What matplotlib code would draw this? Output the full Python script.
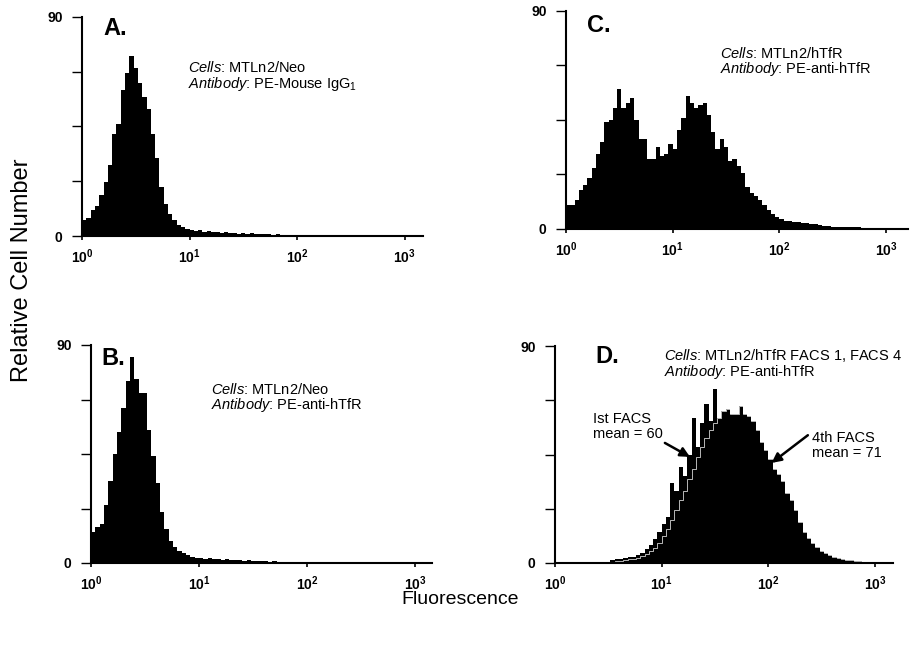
import numpy as np
import matplotlib
matplotlib.use("Agg")
import matplotlib.pyplot as plt
from matplotlib.ticker import NullLocator

plt.rcParams["font.family"] = "Liberation Sans"
plt.rcParams["mathtext.fontset"] = "custom"
plt.rcParams["mathtext.rm"] = "Liberation Sans"
plt.rcParams["mathtext.it"] = "Liberation Sans:italic"
plt.rcParams["mathtext.bf"] = "Liberation Sans:bold"

# channel grid: 80 log channels, 0.04 decade each, from 10^0
log_edges = np.arange(81) * 0.04
edges = 10 ** log_edges

# A. MTLn2/Neo, PE-Mouse IgG1
a_counts = [6.6, 7.5, 10.5, 12.5, 17, 22, 29, 42, 46, 60, 67, 74, 69, 63, 57, 52, 42, 32, 20, 13,
            9, 6.5, 4.5, 3.5, 3, 2.5, 2.2, 2.6, 1.8, 2.0, 1.5, 1.8, 1.3, 1.6, 1.2, 1.4, 1.0, 1.3, 0.9, 1.1,
            0.8, 1.0, 0.7, 0.9, 0.6, 0.8, 0.6, 0.5, 0.5, 0.4, 0.3, 0.3, 0.2, 0.2, 0.2, 0.1, 0, 0, 0, 0,
            0, 0, 0, 0, 0, 0, 0, 0, 0, 0, 0, 0, 0, 0, 0, 0, 0, 0, 0, 0]
# B. MTLn2/Neo, PE-anti-hTfR
b_counts = [13, 15, 16, 24, 34, 45, 54, 64, 75, 85, 76, 70, 70, 55, 44, 33, 21, 14, 9, 6.5,
            5, 4, 3.2, 2.6, 2.2, 2.0, 1.8, 2.1, 1.6, 1.7, 1.4, 1.5, 1.2, 1.3, 1.1, 1.0, 1.1, 0.9, 0.8, 0.9,
            0.7, 0.6, 0.7, 0.5, 0.5, 0.4, 0.4, 0.3, 0.3, 0.3, 0.3, 0.2, 0.3, 0.2, 0.2, 0.1, 0, 0, 0, 0,
            0, 0, 0, 0, 0, 0, 0, 0, 0, 0, 0, 0, 0, 0, 0, 0, 0, 0, 0, 0]
# C. MTLn2/hTfR, PE-anti-hTfR
c_counts = [10, 10, 12, 16, 18, 21, 25, 31, 36, 44, 45, 50, 58, 50, 52, 54, 45, 37, 37, 29,
            29, 34, 30, 31, 35, 33, 41, 46, 55, 52, 50, 51, 52, 47, 40, 33, 37, 34, 28, 29,
            26, 23, 17.5, 15, 13.5, 12, 10, 8, 6, 5, 4, 3.5, 3.2, 3.0, 2.8, 2.6, 2.5, 2.2, 2.0, 1.6,
            1.3, 1.1, 1.0, 1.0, 0.9, 1.0, 0.8, 0.8, 0.7, 0.6, 0.5, 0.5, 0.5, 0.5, 0.5, 0.5, 0.5, 0.5, 0.5, 0.5]
# D. MTLn2/hTfR after 1st and 4th FACS
d1_counts = [0, 0, 0, 0, 0, 0, 0, 0, 0, 0, 0, 0, 0, 1.2, 1.5, 1.8, 2.0, 2.3, 2.6, 3.2,
             4.2, 5.8, 7.5, 10, 13, 16, 19, 33, 30, 40, 36, 45, 60, 48, 58, 66, 59, 72, 60, 62,
             63, 60, 61, 62, 58, 55, 51, 47, 43, 40, 36, 33, 30, 27, 24, 20, 16, 13, 10, 8,
             6, 4.5, 3.5, 2.8, 2.2, 1.8, 1.4, 1.1, 0.8, 0.6, 0.4, 0.3, 0.2, 0, 0, 0, 0, 0, 0, 0]
d4_counts = [0, 0, 0, 0, 0, 0, 0, 0, 0, 0, 0, 0, 0, 0, 0.8, 1.0, 1.2, 1.5, 1.8, 2.2,
             2.8, 3.6, 4.8, 6.3, 8.5, 11, 14, 18, 22, 26, 30, 35, 39, 44, 48, 52, 55, 58, 60, 63,
             64, 62, 62, 65, 62, 61, 59, 55, 50, 47, 43, 39, 37, 34, 29, 26, 22, 17, 13, 10.5,
             8.5, 6.5, 5, 4, 3.3, 2.6, 2.1, 1.8, 1.4, 1.1, 0.9, 0.7, 0.5, 0.4, 0.3, 0, 0, 0, 0, 0]

xtick_vals = [1, 10, 100, 1000]
xtick_labels = [r"$\mathbf{10^{0}}$", r"$\mathbf{10^{1}}$", r"$\mathbf{10^{2}}$", r"$\mathbf{10^{3}}$"]
ytick_vals = [0, 22.5, 45, 67.5, 90]
ytick_labels = ["0", "", "", "", "90"]

fig = plt.figure(figsize=(9.21, 6.47), dpi=100)


def make_axes(left, right, top, bottom, xmax_log):
    ax = fig.add_axes([left / 921, 1 - bottom / 647, (right - left) / 921, (bottom - top) / 647])
    ax.set_xscale("log")
    ax.set_xlim(1, 10 ** xmax_log)
    ax.set_ylim(0, 90)
    ax.spines["top"].set_visible(False)
    ax.spines["right"].set_visible(False)
    ax.spines["left"].set_linewidth(1.5)
    ax.spines["bottom"].set_linewidth(1.5)
    ax.set_xticks(xtick_vals)
    ax.set_xticklabels(xtick_labels, fontsize=10)
    ax.xaxis.set_minor_locator(NullLocator())
    ax.set_yticks(ytick_vals)
    ax.set_yticklabels(ytick_labels, fontsize=10, fontweight="bold")
    ax.tick_params(axis="y", length=7, width=1, pad=7)
    ax.tick_params(axis="x", length=3, width=1.2, pad=5)
    return ax


def label(ax, x, y, letter):
    ax.text(x, y, letter, fontsize=17, fontweight="bold", va="baseline")


def info(ax, x, y, text):
    # y is the baseline of the last line
    ax.text(x, y, text, fontsize=10.5, va="baseline", linespacing=0.95)


# A
ax_a = make_axes(82, 423, 17, 236, 3.172)
ax_a.stairs(a_counts, edges, fill=True, color="black")
label(ax_a, 10 ** 0.195, 82.6, "A.")
info(ax_a, 10 ** 0.986, 61.0, r"$\mathit{Cells}$: MTLn2/Neo" + "\n" + r"$\mathit{Antibody}$: PE-Mouse IgG$_1$")

# B
ax_b = make_axes(91, 432, 345, 563, 3.157)
ax_b.stairs(b_counts, edges, fill=True, color="black")
label(ax_b, 10 ** 0.10, 81.8, "B.")
info(ax_b, 10 ** 1.11, 63.6, r"$\mathit{Cells}$: MTLn2/Neo" + "\n" + r"$\mathit{Antibody}$: PE-anti-hTfR")

# C
ax_c = make_axes(566, 908, 11, 229, 3.205)
ax_c.stairs(c_counts, edges, fill=True, color="black")
label(ax_c, 10 ** 0.197, 81.3, "C.")
info(ax_c, 10 ** 1.443, 64.4, r"$\mathit{Cells}$: MTLn2/hTfR" + "\n" + r"$\mathit{Antibody}$: PE-anti-hTfR")

# D
ax_d = make_axes(555, 893, 346, 563, 3.168)
ax_d.stairs(d1_counts, edges, fill=True, color="black")
ax_d.stairs(d4_counts, edges, fill=True, color="black")
ax_d.stairs(d4_counts, edges, fill=False, color="white", linewidth=0.5)
label(ax_d, 10 ** 0.375, 83, "D.")
info(ax_d, 10 ** 1.02, 77.6, r"$\mathit{Cells}$: MTLn2/hTfR FACS 1, FACS 4" + "\n" + r"$\mathit{Antibody}$: PE-anti-hTfR")
ax_d.text(10 ** 0.353, 52, "Ist FACS\nmean = 60", fontsize=10.5, va="baseline", linespacing=1.05)
ax_d.text(10 ** 2.405, 44, "4th FACS\nmean = 71", fontsize=10.5, va="baseline", linespacing=1.05)
arrow = dict(arrowstyle="-|>", color="black", lw=1.8, mutation_scale=14, shrinkA=0, shrinkB=0)
ax_d.annotate("", xy=(10 ** 1.265, 44), xytext=(10 ** 1.03, 49.8), arrowprops=arrow)
ax_d.annotate("", xy=(10 ** 2.03, 41.5), xytext=(10 ** 2.37, 53), arrowprops=arrow)

fig.text(22 / 921, 1 - 270 / 647, "Relative Cell Number", rotation=90, fontsize=17, ha="center", va="center")
fig.text(460 / 921, 1 - 600 / 647, "Fluorescence", fontsize=14, ha="center", va="center")

fig.savefig("out.png", dpi=100)
